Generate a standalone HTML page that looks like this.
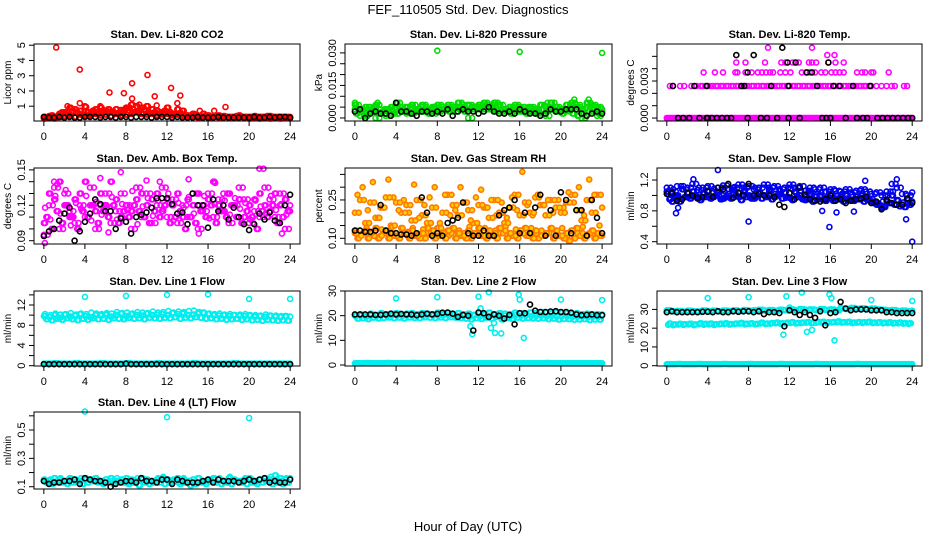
<!DOCTYPE html>
<html><head><meta charset="utf-8"><style>
body{margin:0;background:#fff}
svg{display:block;font-family:"Liberation Sans",sans-serif}
</style></head><body>
<svg id="chart" width="936" height="540" viewBox="0 0 936 540">
<rect width="936" height="540" fill="#fff"/>
<text x="468" y="14" text-anchor="middle" font-size="13">FEF_110505  Std. Dev. Diagnostics</text>
<text x="468" y="531" text-anchor="middle" font-size="13">Hour of Day (UTC)</text>
</svg>
<script>
const H1=[0,0.5,1,1.5,2,2.5,3,3.5,4,4.5,5,5.5,6,6.5,7,7.5,8,8.5,9,9.5,10,10.5,11,11.5,12,12.5,13,13.5,14,14.5,15,15.5,16,16.5,17,17.5,18,18.5,19,19.5,20,20.5,21,21.5,22,22.5,23,23.5,24];
const H2=[0.25,0.75,1.25,1.75,2.25,2.75,3.25,3.75,4.25,4.75,5.25,5.75,6.25,6.75,7.25,7.75,8.25,8.75,9.25,9.75,10.25,10.75,11.25,11.75,12.25,12.75,13.25,13.75,14.25,14.75,15.25,15.75,16.25,16.75,17.25,17.75,18.25,18.75,19.25,19.75,20.25,20.75,21.25,21.75,22.25,22.75,23.25,23.75];
const H3=[0.125,0.625,1.125,1.625,2.125,2.625,3.125,3.625,4.125,4.625,5.125,5.625,6.125,6.625,7.125,7.625,8.125,8.625,9.125,9.625,10.125,10.625,11.125,11.625,12.125,12.625,13.125,13.625,14.125,14.625,15.125,15.625,16.125,16.625,17.125,17.625,18.125,18.625,19.125,19.625,20.125,20.625,21.125,21.625,22.125,22.625,23.125,23.625];
const H4=[0.375,0.875,1.375,1.875,2.375,2.875,3.375,3.875,4.375,4.875,5.375,5.875,6.375,6.875,7.375,7.875,8.375,8.875,9.375,9.875,10.375,10.875,11.375,11.875,12.375,12.875,13.375,13.875,14.375,14.875,15.375,15.875,16.375,16.875,17.375,17.875,18.375,18.875,19.375,19.875,20.375,20.875,21.375,21.875,22.375,22.875,23.375,23.875];
const xTicks=[0,4,8,12,16,20,24];
const panelTitles=["Stan. Dev. Li-820 CO2","Stan. Dev. Li-820 Pressure","Stan. Dev. Li-820 Temp.","Stan. Dev. Amb. Box Temp.","Stan. Dev. Gas Stream RH","Stan. Dev. Sample Flow","Stan. Dev. Line 1 Flow","Stan. Dev. Line 2 Flow","Stan. Dev. Line 3 Flow","Stan. Dev. Line 4 (LT) Flow"];
const yTitles=["Licor ppm","kPa","degrees C","degrees C","percent","ml/min","ml/min","ml/min","ml/min","ml/min"];
const yDomains=[[0.03,5.08],[-0.0014,0.0341],[-0.00024,0.006],[0.0872,0.1516],[0.0777,0.375],[0.37,1.356],[-0.06,14.77],[-0.4,30.0],[-0.16,39.8],[0.084,0.627]];
const yTickVals=[[1,2,3,4,5],[0,0.005,0.01,0.015,0.02,0.025,0.03],[0,0.001,0.002,0.003,0.004,0.005],[0.09,0.1,0.11,0.12,0.13,0.14,0.15],[0.1,0.15,0.2,0.25,0.3,0.35],[0.4,0.6,0.8,1.0,1.2],[0,2,4,6,8,10,12,14],[0,10,20,30],[0,10,20,30],[0.1,0.2,0.3,0.4,0.5,0.6]];
const yTickLabels=[["1","2","3","4","5"],["0.000","","","0.015","","","0.030"],["0.000","","","0.003","",""],["0.09","","","0.12","","","0.15"],["0.10","","","0.25","",""],["0.4","","0.8","","1.2"],["0","","4","","8","","12",""],["0","10","20","30"],["0","10","20","30"],["0.1","","0.3","","0.5",""]];

// P1 CO2
const co2A=[0.3,0.35,0.3,0.5,0.6,0.9,0.8,0.7,0.95,0.5,0.8,0.9,0.7,0.6,0.8,0.75,0.9,1.1,1.0,0.9,1.0,0.8,0.7,0.6,0.9,0.5,0.8,0.7,0.4,0.5,0.35,0.5,0.4,0.3,0.4,0.35,0.3,0.3,0.4,0.3,0.3,0.35,0.3,0.3,0.35,0.3,0.3,0.3,0.3];
const co2B=[0.25,0.4,0.3,0.6,0.45,0.7,0.55,0.4,0.6,0.7,0.5,0.65,0.8,0.6,0.5,0.7,0.9,0.6,0.7,0.8,0.55,0.6,0.5,0.7,0.6,0.45,0.55,0.4,0.35,0.45,0.3,0.4,0.3,0.35,0.3,0.3,0.3,0.35,0.3,0.3,0.3,0.3,0.3,0.35,0.3,0.3,0.3,0.3];
const co2C=[0.2,0.25,0.2,0.3,0.35,0.4,0.3,0.45,0.35,0.4,0.5,0.4,0.45,0.35,0.5,0.4,0.45,0.5,0.6,0.5,0.45,0.5,0.4,0.45,0.5,0.4,0.45,0.35,0.3,0.35,0.25,0.3,0.25,0.3,0.25,0.3,0.25,0.25,0.3,0.25,0.2,0.25,0.2,0.25,0.2,0.25,0.2,0.25,0.2];
const co2Out=[[1.2,4.85],[3.5,3.4],[3.5,1.2],[6.4,1.9],[7.8,1.85],[8.6,2.5],[8.6,1.5],[10.1,3.05],[10.8,1.65],[12.4,2.2],[13.3,1.7],[13,1.2],[15.2,0.7],[16.6,0.7],[17.7,0.95],[2.3,1.0],[4,1.0],[5.5,1.0],[9.3,1.1],[11,1.05]];
const co2Black=[0.3,0.25,0.25,0.3,0.25,0.3,0.25,0.25,0.3,0.3,0.3,0.25,0.3,0.3,0.25,0.3,0.3,0.25,0.3,0.3,0.3,0.25,0.3,0.3,0.3,0.25,0.3,0.25,0.25,0.25,0.3,0.25,0.25,0.25,0.3,0.25,0.25,0.25,0.25,0.25,0.25,0.3,0.25,0.25,0.3,0.25,0.3,0.3,0.25];
// P2 Pressure
const prA=[0.006,0.004,0.005,0.003,0.006,0.002,0.004,0.005,0.007,0.003,0.005,0.006,0.004,0.006,0.003,0.005,0.006,0.004,0.006,0.005,0.007,0.004,0.006,0.005,0.006,0.007,0.005,0.007,0.006,0.004,0.005,0.006,0.005,0.003,0.005,0.004,0.006,0.005,0.007,0.005,0.004,0.006,0.007,0.005,0.004,0.007,0.006,0.005,0.004];
const prB=[0.002,0.003,0.001,0.004,0.002,0.003,0.004,0.003,0.002,0.004,0.003,0.002,0.004,0.003,0.002,0.005,0.003,0.004,0.003,0.005,0.004,0.003,0.004,0.005,0.004,0.005,0.004,0.003,0.004,0.003,0.002,0.004,0.003,0.002,0.003,0.002,0.004,0.003,0.004,0.003,0.002,0.004,0.002,0.001,0.002,0.003,0.004,0.002];
const prC=[0.004,0.001,0.003,0.005,0.0,0.004,0.001,0.002,0.004,0.005,0.002,0.004,0.003,0.005,0.004,0.002,0.003,0.005,0.004,0.003,0.005,0.006,0.0,0.004,0.005,0.004,0.006,0.004,0.003,0.004,0.005,0.003,0.004,0.005,0.004,0.003,0.002,0.001,0.004,0.003,0.004,0.003,0.005,0.006,0.0,0.005,0.003,0.001,0.003];
const prOut=[[8,0.031],[16,0.0305],[24,0.030],[21.3,0.0085],[22.7,0.0085],[18.7,0.007],[2.2,0.007],[0,0.007]];
const prBlack=[0.003,0.004,0.0,0.002,0.003,0.002,0.002,0.001,0.007,0.003,0.003,0.002,0.001,0.003,0.003,0.002,0.003,0.002,0.004,0.001,0.003,0.004,0.003,0.003,0.002,0.003,0.005,0.003,0.002,0.002,0.003,0.002,0.004,0.003,0.002,0.002,0.001,0.002,0.004,0.003,0.003,0.004,0.004,0.004,0.002,0.001,0.002,0.003,0.002];
// P3 Temp (discrete levels)
const tLevels=[0,0.0026,0.0037,0.0045,0.0051,0.0057];
const tMagentaHours=[
 H1.concat(H2,H3,H4),
 [0.3,0.6,1.3,1.7,2.4,2.9,3.3,3.5,3.8,4,4.2,4.5,4.8,5,5.3,5.5,5.8,6,6.3,6.5,6.8,7,7.3,7.5,7.8,8,8.3,8.5,8.8,9,9.3,9.5,9.8,10,10.3,10.5,10.8,11,11.3,11.5,11.8,12,12.3,12.5,12.8,13,13.3,13.5,13.8,14,14.3,14.5,14.8,15,15.3,15.5,15.8,16,16.3,16.5,16.8,17,17.3,17.5,17.8,18,18.3,18.5,18.8,19,19.3,19.5,19.8,20,20.5,21,21.5,22,22.3,23.2,23.5],
 [3.6,4.7,5.5,6.7,6.9,7.7,8.3,8.9,9.3,9.7,10.1,10.4,11.1,11.6,12.1,13.2,13.6,14,14.5,15.1,15.5,16.1,16.5,16.9,17.3,18.6,19.1,19.4,20,20.2,21.7],
 [6.8,7.7,9.6,11.2,11.6,12.3,12.9,13.9,14.2,14.6,15.8,16.5,17.3],
 [15.7,16.4],
 [9.9,14.2]];
const tBlackHours=[
 [1.1,1.6,2.2,3.2,3.9,4,4.4,4.9,5.4,5.9,6.3,7.9,9.2,9.8,10.8,11.9,13,15.2,15.6,16,17.5,18.6,19.2,19.6,20.6,21.1,21.6,22.1,22.6,23.1,23.6,24],
 [0.6,2.7,3.9,7.3,7.6,10.2,11.9,14.7,16.3,16.9,18.2,19.9],
 [7.9,13.7,14.2],
 [11.8,12.6,15.8],
 [6.8,8.5],
 [11.3]];
// P4 Amb box
const abA=[0.105,0.13,0.125,0.14,0.12,0.11,0.125,0.13,0.14,0.12,0.115,0.13,0.12,0.14,0.125,0.11,0.12,0.115,0.125,0.13,0.12,0.125,0.13,0.115,0.125,0.12,0.13,0.11,0.125,0.12,0.13,0.12,0.125,0.14,0.12,0.115,0.13,0.12,0.125,0.11,0.12,0.125,0.13,0.12,0.115,0.13,0.12,0.125,0.12];
const abB=[0.11,0.1,0.115,0.105,0.12,0.11,0.1,0.115,0.11,0.12,0.105,0.115,0.11,0.12,0.105,0.115,0.11,0.12,0.115,0.11,0.105,0.115,0.11,0.12,0.105,0.11,0.115,0.1,0.11,0.105,0.115,0.11,0.12,0.105,0.115,0.11,0.12,0.11,0.105,0.115,0.11,0.1,0.115,0.11,0.12,0.105,0.11,0.115];
const abC=[0.095,0.12,0.135,0.1,0.13,0.115,0.105,0.12,0.11,0.135,0.1,0.12,0.13,0.105,0.115,0.13,0.12,0.1,0.135,0.11,0.13,0.105,0.12,0.135,0.11,0.125,0.105,0.12,0.11,0.13,0.1,0.115,0.13,0.11,0.125,0.13,0.105,0.12,0.135,0.125,0.105,0.115,0.11,0.135,0.125,0.11,0.13,0.1,0.115];
const abD=[0.118,0.108,0.128,0.113,0.133,0.103,0.122,0.117,0.128,0.107,0.123,0.112,0.118,0.127,0.108,0.121,0.116,0.132,0.104,0.119,0.126,0.111,0.124,0.117,0.13,0.107,0.122,0.118,0.127,0.113,0.12,0.128,0.109,0.121,0.116,0.124,0.112,0.126,0.117,0.122,0.108,0.124,0.119,0.113,0.128,0.116,0.121,0.112];
const abOut=[[0.1,0.088],[1,0.14],[1.3,0.138],[5.5,0.143],[7.5,0.148],[11.3,0.14],[14.1,0.142],[16.7,0.139],[21,0.151],[21.4,0.151],[10,0.141],[15.1,0.096],[23.2,0.096],[6.3,0.097]];
const abBlack=[0.094,0.098,0.1,0.107,0.113,0.118,0.09,0.098,0.106,0.113,0.125,0.121,0.115,0.115,0.1,0.109,0.106,0.096,0.11,0.112,0.114,0.118,0.126,0.126,0.126,0.121,0.113,0.114,0.104,0.13,0.12,0.12,0.101,0.125,0.115,0.12,0.108,0.118,0.11,0.104,0.099,0.104,0.113,0.108,0.114,0.107,0.105,0.12,0.129];
// P5 RH
const rhA=[0.12,0.11,0.13,0.12,0.14,0.11,0.13,0.12,0.11,0.14,0.12,0.13,0.11,0.12,0.14,0.13,0.11,0.12,0.13,0.14,0.12,0.11,0.13,0.12,0.14,0.11,0.13,0.12,0.14,0.13,0.12,0.11,0.13,0.14,0.12,0.13,0.11,0.12,0.14,0.13,0.11,0.12,0.13,0.14,0.12,0.11,0.13,0.12,0.11];
const rhB=[0.1,0.12,0.1,0.11,0.1,0.12,0.1,0.11,0.1,0.12,0.1,0.11,0.1,0.1,0.12,0.1,0.11,0.1,0.12,0.1,0.11,0.1,0.1,0.12,0.11,0.1,0.11,0.1,0.12,0.1,0.11,0.1,0.12,0.11,0.1,0.1,0.11,0.12,0.1,0.11,0.1,0.09,0.1,0.11,0.1,0.12,0.1,0.11];
const rhC=[0.2,0.25,0.16,0.24,0.18,0.22,0.26,0.15,0.24,0.2,0.23,0.17,0.25,0.19,0.16,0.22,0.14,0.2,0.27,0.23,0.19,0.24,0.21,0.16,0.23,0.22,0.18,0.25,0.2,0.16,0.22,0.27,0.19,0.24,0.2,0.26,0.23,0.19,0.25,0.22,0.2,0.24,0.27,0.21,0.17,0.25,0.2,0.27,0.22];
const rhD=[0.27,0.3,0.21,0.32,0.18,0.22,0.33,0.26,0.21,0.25,0.2,0.31,0.18,0.23,0.26,0.3,0.16,0.27,0.19,0.21,0.3,0.24,0.17,0.26,0.29,0.22,0.25,0.19,0.24,0.18,0.26,0.21,0.36,0.23,0.19,0.27,0.23,0.25,0.2,0.25,0.22,0.28,0.24,0.3,0.19,0.33,0.27,0.15];
const rhE=[0.13,0.115,0.14,0.125,0.105,0.135,0.12,0.145,0.11,0.13,0.125,0.14,0.115,0.135,0.12,0.105,0.14,0.125,0.11,0.135,0.13,0.12,0.145,0.115,0.125,0.14,0.11,0.13,0.12,0.145,0.115,0.135,0.125,0.11,0.14,0.12,0.13,0.115,0.135,0.125,0.14,0.11,0.13,0.12,0.145,0.115,0.13,0.12];
const rhBlack=[0.13,0.13,0.125,0.125,0.13,0.23,0.13,0.12,0.12,0.115,0.115,0.11,0.12,0.26,0.2,0.11,0.12,0.11,0.16,0.17,0.18,0.24,0.12,0.11,0.11,0.13,0.11,0.11,0.19,0.21,0.22,0.25,0.12,0.2,0.12,0.22,0.27,0.11,0.21,0.11,0.28,0.25,0.12,0.21,0.21,0.11,0.25,0.18,0.12];
// P6 Sample flow
const sfA=[1.1,1.05,1.12,1.08,1.1,1.15,1.07,1.1,1.12,1.05,1.1,1.13,1.08,1.1,1.14,1.1,1.12,1.08,1.1,1.14,1.1,1.12,1.08,1.1,1.14,1.1,1.12,1.06,1.1,1.08,1.1,1.05,1.08,1.06,1.05,1.08,1.04,1.06,1.08,1.05,1.02,1.04,1.0,1.05,1.15,1.1,1.02,1.0,1.04];
const sfB=[0.95,1.0,0.92,0.98,0.96,1.0,0.94,0.98,0.96,1.0,0.95,0.98,0.96,1.0,0.94,0.98,0.96,1.0,0.96,0.98,0.95,1.0,0.96,0.98,0.94,0.98,0.95,0.96,0.92,0.95,0.94,0.96,0.93,0.95,0.92,0.94,0.93,0.95,0.92,0.94,0.9,0.88,0.85,0.9,0.88,0.86,0.85,0.88];
const sfC=[1.05,0.92,1.0,1.08,0.98,1.05,0.96,1.02,1.06,0.98,1.04,0.96,1.02,1.07,0.98,1.05,1.0,0.96,1.04,1.0,1.06,0.98,1.02,1.04,0.97,1.05,1.0,0.94,1.02,0.98,1.0,0.93,1.0,0.96,0.98,1.0,0.94,0.98,1.0,0.95,0.92,0.88,0.84,0.92,1.0,0.94,0.88,0.9,0.92];
const sfD=[1.02,1.08,0.97,1.12,1.03,0.99,1.1,1.04,0.98,1.09,1.01,1.06,0.99,1.11,1.03,1.07,0.98,1.1,1.04,0.99,1.08,1.02,1.06,0.97,1.09,1.03,1.06,0.98,1.05,1.0,1.04,0.97,1.03,0.99,1.02,0.96,1.01,0.98,1.03,0.97,0.95,0.9,0.92,1.0,1.05,0.93,0.91,0.95];
const sfOut=[[0.9,0.77],[1.1,0.84],[2.6,1.21],[5,1.33],[8,0.66],[15.9,0.59],[16.6,0.78],[18.3,0.79],[15.2,0.8],[22.5,1.21],[23.4,0.69],[24,0.4],[19.4,1.19]];
const sfBlack=[1.02,1.03,0.93,0.95,1.03,1.0,0.97,0.98,1.05,0.98,1.1,1.08,1.15,0.97,1.03,1.0,1.15,1.0,1.02,1.0,1.0,0.98,0.88,0.85,1.03,0.95,1.1,1.01,0.95,0.93,0.92,0.95,1.0,0.93,0.95,0.9,0.93,0.95,0.96,0.98,0.9,0.92,0.82,0.94,0.9,0.88,0.88,0.96,0.9];
// P7 Line 1
const l1A=[9.8,9.6,10,9.5,10.1,9.7,9.9,10.2,9.8,9.6,10,9.9,10.1,9.7,10,10.3,9.8,10.2,10,9.9,10.3,10,10.1,10.2,10,10.4,10.2,10.3,10,10.1,10.3,10.5,10.2,10.0,9.9,10,9.8,10,9.9,9.8,10,9.7,9.8,9.6,9.9,9.7,9.6,9.8,9.7];
const l1B=[9.2,9.0,9.3,9.1,9.4,9.2,9.0,9.3,9.1,9.4,9.2,9.3,9.1,9.4,9.3,9.2,9.5,9.3,9.4,9.2,9.5,9.4,9.3,9.5,9.4,9.6,9.3,9.5,9.4,9.6,9.5,9.3,9.4,9.2,9.3,9.1,9.2,9.3,9.1,9.2,9.0,9.1,8.9,9.1,9.0,8.9,9.0,8.9];
const l1C=[10.2,10.0,10.3,10.1,10.2,10.4,10.1,10.3,10.2,10.5,10.3,10.2,10.4,10.3,10.6,10.4,10.5,10.3,10.6,10.5,10.4,10.7,10.5,10.6,10.8,10.5,10.7,10.6,10.8,10.9,10.6,10.4,10.3,10.2,10.3,10.1,10.2,10.0,10.1,10.2,9.9,10.0,9.9,10.1,9.8,9.9,9.8,9.7];
const l1Low=[0.4,0.4,0.5,0.4,0.4,0.4,0.5,0.4,0.4,0.4,0.4,0.5,0.4,0.4,0.4,0.4,0.5,0.4,0.4,0.4,0.4,0.4,0.5,0.4,0.4,0.4,0.4,0.4,0.4,0.5,0.4,0.4,0.4,0.4,0.4,0.4,0.4,0.5,0.4,0.4,0.4,0.4,0.4,0.4,0.4,0.4,0.4,0.4,0.4];
const l1Out=[[4,13.6],[8,13.8],[12,14],[16,14.1],[20,13.2],[24,13.2]];
const l1Black=[0.3,0.3,0.3,0.3,0.3,0.3,0.3,0.3,0.3,0.3,0.3,0.3,0.3,0.3,0.3,0.3,0.4,0.3,0.3,0.3,0.3,0.3,0.3,0.3,0.3,0.3,0.3,0.3,0.3,0.3,0.3,0.3,0.3,0.3,0.3,0.3,0.3,0.3,0.3,0.3,0.3,0.3,0.3,0.3,0.3,0.3,0.3,0.3,0.3];
// P8 Line 2
const l2A=[20,20.5,19.8,20.8,20.2,21,20.5,20.7,21,20.4,20.8,21,20.6,21,20.8,20.6,21.2,20.8,21,20.7,21,20.5,20.8,20.3,21,20.8,21.2,20.6,21,20.8,20.5,21.2,21,20.7,21.3,21,21.5,21.2,21,21.3,21.2,21,20.8,21,20.6,20.8,20.5,20.6,20.5];
const l2B=[18.8,19,18.6,19.2,18.9,19.1,19.3,19,19.2,18.9,19.3,19.1,19,19.4,19.2,19,19.3,19.1,19.4,19.2,19,18.8,18.5,19,18.7,19.2,18.8,19.5,18.5,19,18.7,19.2,18.8,19.1,18.9,18.8,19,18.6,18.8,18.5,18.7,18.6,18.4,18.5,18.6,18.3,18.5,18.4];
const l2C=[19.8,20.1,19.6,20.2,19.9,20.3,19.8,20.1,20.2,19.9,20.3,20.0,20.2,19.9,20.4,20.1,19.9,20.3,20.0,20.2,19.8,20.1,19.5,20.0,19.7,20.3,19.8,20.4,19.6,20.0,19.8,20.2,19.9,20.1,19.8,19.9,20.1,19.7,19.9,19.6,19.8,19.7,19.5,19.6,19.7,19.4,19.6,19.5];
const l2Low=[0.7,0.7,0.8,0.7,0.7,0.7,0.8,0.7,0.7,0.7,0.7,0.8,0.7,0.7,0.7,0.7,0.8,0.7,0.7,0.7,0.7,0.7,0.8,0.7,0.7,0.7,0.7,0.7,0.7,0.8,0.7,0.7,0.7,0.7,0.7,0.7,0.7,0.8,0.7,0.7,0.7,0.7,0.7,0.7,0.7,0.7,0.7,0.7,0.7];
const l2Out=[[4,27],[8,27.5],[12,27.7],[13,29.5],[15.9,28.5],[16,26.5],[20,26.5],[24,26.3],[11.2,15.7],[11.4,12.5],[13.2,15],[13.5,17],[13.6,13],[14.2,12.8],[16.4,11],[12.2,23]];
const l2Black=[20.5,20.5,20.5,20.5,20.3,20.3,20.5,20.8,20.5,20.7,20.5,20.5,20.2,20.5,20.8,20.5,20.7,21.2,21.3,20.8,19.5,20.3,20,14,21.3,21,19.5,20.5,20,18.8,20.3,16.5,21,21,24.5,22,21.5,21.5,21.7,21.8,21.5,21.5,21.2,20.5,20.2,20.3,20.5,20.2,20.2];
// P9 Line 3
const l3A=[29.5,29,29.2,28.8,29.3,29,28.9,29.4,29.1,29.3,29,29.4,29.2,29.5,29.1,29.6,29.3,29.5,29.8,29.4,29.7,29.3,29.8,29.5,30,29.6,30.2,29.8,30,29.6,30.2,29.8,30,29.5,30.5,30.2,30.8,30.3,30.6,30.2,30.5,30,29.8,29.5,29.6,29.2,29.4,29,29.3];
const l3B=[22.5,22,22.3,22.1,22.4,22,22.6,22.3,22.5,22.1,22.4,22.6,22.2,22.5,22.8,22.4,22.6,22.3,22.9,22.5,22.7,23,22.6,22.9,23.2,22.8,23,23.2,22.9,23.3,23.4,23.1,23.3,23.6,23.2,23.4,23,23.3,23.1,23.4,23,23.2,22.9,23.1,22.8,23,22.7,22.6];
const l3C=[21.8,21.6,21.9,21.7,22.0,21.6,22.1,21.8,22.0,21.7,22.1,22.2,21.9,22.2,22.4,22.0,22.3,22.0,22.5,22.2,22.4,22.6,22.3,22.5,22.8,22.5,22.7,22.9,22.6,22.9,23.0,22.8,23.0,23.1,22.9,23.0,22.7,22.9,22.8,23.0,22.7,22.8,22.6,22.7,22.5,22.6,22.4,22.3];
const l3Low=[0.8,0.8,0.9,0.8,0.8,0.8,0.9,0.8,0.8,0.8,0.8,0.9,0.8,0.8,0.8,0.8,0.9,0.8,0.8,0.8,0.8,0.8,0.9,0.8,0.8,0.8,0.8,0.8,0.8,0.9,0.8,0.8,0.8,0.8,0.8,0.8,0.8,0.9,0.8,0.8,0.8,0.8,0.8,0.8,0.8,0.8,0.8,0.8,0.8];
const l3Out=[[4,36],[8,36.5],[11.7,37],[13.2,39],[15.9,38],[16.1,36],[20,35],[24,34.5],[11.4,16.5],[13.7,18],[14.2,19],[16.4,13.5],[12,31],[17,31]];
const l3Black=[28.5,29,28.5,28.5,28.5,28.5,28.5,28.7,28.7,28.5,29,28.5,28.5,29,28.7,29,29,28.5,29,27.5,28.5,28.5,28,21,29.5,28.5,27,28.5,27,25.5,29,21.5,28,28.5,34,30.5,29.5,30,30,30,29.5,29.5,29.5,28.5,28.5,28,28,28,28];
// P10 Line 4
const l4A=[0.15,0.14,0.16,0.15,0.14,0.16,0.15,0.14,0.16,0.15,0.16,0.14,0.15,0.16,0.14,0.15,0.16,0.15,0.14,0.16,0.15,0.14,0.15,0.16,0.15,0.14,0.16,0.15,0.14,0.15,0.16,0.14,0.15,0.16,0.15,0.14,0.16,0.15,0.14,0.15,0.16,0.14,0.15,0.16,0.15,0.18,0.16,0.15,0.16];
const l4B=[0.13,0.12,0.14,0.13,0.12,0.13,0.14,0.12,0.13,0.14,0.13,0.12,0.13,0.12,0.14,0.13,0.12,0.13,0.11,0.13,0.12,0.14,0.13,0.12,0.13,0.14,0.12,0.13,0.11,0.12,0.13,0.12,0.14,0.13,0.12,0.13,0.12,0.14,0.13,0.12,0.13,0.12,0.13,0.14,0.12,0.13,0.12,0.13];
const l4C=[0.14,0.15,0.13,0.16,0.14,0.15,0.13,0.16,0.15,0.14,0.16,0.13,0.15,0.14,0.16,0.15,0.13,0.14,0.16,0.15,0.14,0.13,0.16,0.17,0.14,0.15,0.13,0.16,0.14,0.15,0.16,0.13,0.14,0.15,0.16,0.14,0.17,0.15,0.14,0.16,0.15,0.13,0.15,0.14,0.17,0.15,0.14,0.16];
const l4Out=[[4,0.63],[12,0.59],[20,0.585]];
const l4Black=[0.14,0.12,0.13,0.13,0.14,0.14,0.15,0.12,0.16,0.15,0.14,0.14,0.13,0.1,0.12,0.13,0.14,0.14,0.13,0.16,0.14,0.14,0.13,0.15,0.15,0.12,0.15,0.14,0.13,0.13,0.13,0.14,0.15,0.13,0.15,0.14,0.14,0.14,0.13,0.14,0.15,0.14,0.15,0.16,0.13,0.14,0.13,0.13,0.15];

const NS="http://www.w3.org/2000/svg";
const svg=document.getElementById('chart');
const colX=[34,345,657], colW=[266,267,265];
const rowY=[44,168,291,412], boxH=[77,76,75,77];
function mk(tag,attrs,parent){const e=document.createElementNS(NS,tag);for(const k in attrs)e.setAttribute(k,attrs[k]);(parent||svg).appendChild(e);return e;}
function zip(xs,ys){const o=[];const n=Math.min(xs.length,ys.length);for(let i=0;i<n;i++)o.push([xs[i],ys[i]]);return o;}
function lvl(hoursLists,levels){const o=[];hoursLists.forEach((hs,i)=>hs.forEach(h=>o.push([h,levels[i]])));return o;}
const series=[
 [["#ff0000",zip(H1,co2A).concat(zip(H2,co2B),zip(H1,co2C),zip(H3,co2C),zip(H4,co2B),zip(H3,co2A),co2Out)],["#000",zip(H1,co2Black)]],
 [["#00dd00",zip(H1,prA).concat(zip(H2,prB),zip(H1,prC),zip(H3,prA),zip(H4,prC),zip(H3,prB),zip(H4,prA),prOut)],["#000",zip(H1,prBlack)]],
 [["#ff00ff",lvl(tMagentaHours,tLevels)],["#000",lvl(tBlackHours,tLevels)]],
 [["#ff00ff",zip(H1,abA).concat(zip(H2,abB),zip(H1,abC),zip(H3,abD),zip(H4,abB),zip(H3,abA),zip(H4,abC),abOut)],["#000",zip(H1,abBlack)]],
 [["#ff7a00",zip(H1,rhA).concat(zip(H2,rhB),zip(H1,rhC),zip(H2,rhD),zip(H3,rhE),zip(H4,rhB),zip(H3,rhA),zip(H4,rhC)),"#ffd000"],["#000",zip(H1,rhBlack)]],
 [["#0000ee",zip(H1,sfA).concat(zip(H2,sfB),zip(H1,sfC),zip(H3,sfD),zip(H4,sfB),zip(H3,sfC),zip(H4,sfA),sfOut)],["#000",zip(H1,sfBlack)]],
 [["#00eeee",zip(H1,l1A).concat(zip(H2,l1B),zip(H3,l1C),zip(H4,l1B),zip(H3,l1A),zip(H1,l1Low),zip(H2,l1Low),zip(H3,l1Low),zip(H4,l1Low),l1Out)],["#000",zip(H1,l1Black)]],
 [["#00eeee",zip(H1,l2A).concat(zip(H2,l2B),zip(H3,l2C),zip(H4,l2B),zip(H3,l2A),zip(H1,l2Low),zip(H2,l2Low),zip(H3,l2Low),zip(H4,l2Low),l2Out)],["#000",zip(H1,l2Black)]],
 [["#00eeee",zip(H1,l3A).concat(zip(H2,l3B),zip(H3,l3C),zip(H4,l3B),zip(H3,l3A),zip(H4,l3A),zip(H1,l3Low),zip(H2,l3Low),zip(H3,l3Low),zip(H4,l3Low),l3Out)],["#000",zip(H1,l3Black)]],
 [["#00eeee",zip(H1,l4A).concat(zip(H2,l4B),zip(H3,l4C),zip(H4,l4B),zip(H3,l4A),l4Out)],["#000",zip(H1,l4Black)]]
];
for(let p=0;p<10;p++){
 const r=Math.floor(p/3),c=p%3;
 const L=colX[c],W=colW[c],T=rowY[r],H=boxH[r],B=T+H;
 const g=mk('g',{});
 
 
 const xs=v=>L+(v+0.96)/25.92*W;
 const [d0,d1]=yDomains[p];
 const ys=v=>B-(v-d0)/(d1-d0)*H;
 const t=mk('text',{x:L+W/2,y:T-6,'text-anchor':'middle','font-size':11,'font-weight':'bold'},g);
 t.textContent=panelTitles[p];
 
 
 const yt=mk('text',{x:0,y:0,'text-anchor':'middle','font-size':10,transform:`translate(${L-23},${T+H/2}) rotate(-90)`},g);
 yt.textContent=yTitles[p];
 
 
 const pg=mk('g',{},g);
 
 
 series[p].forEach(s=>{
  s[1].forEach(pt=>{
   const cy=ys(pt[1]);
   if(cy<T-3||cy>B+3)return;
   const ci=mk('circle',{cx:xs(pt[0]).toFixed(1),cy:cy.toFixed(1),r:2.5,fill:s[2]||'none',stroke:s[0],'stroke-width':1.6},pg);
   
   
  });
 });
 const box=mk('rect',{x:L,y:T,width:W,height:H,fill:'none',stroke:'#000','stroke-width':1},g);
 
 
 xTicks.forEach(v=>{
  const x=xs(v);
  mk('line',{x1:x,x2:x,y1:B,y2:B+5,stroke:'#000'},g);
  const tl=mk('text',{x:x,y:B+19,'text-anchor':'middle','font-size':11},g);
  tl.textContent=v;
  
  
 });
 const yv=yTickVals[p];
 mk('line',{x1:L,x2:L,y1:ys(yv[0]),y2:ys(yv[yv.length-1]),stroke:'#000'},g);
 yv.forEach((v,i)=>{
  const y=ys(v);
  mk('line',{x1:L-5,x2:L,y1:y,y2:y,stroke:'#000'},g);
  const lab=yTickLabels[p][i];
  if(lab){
   const tl=mk('text',{x:0,y:0,'text-anchor':'middle','font-size':11,transform:`translate(${L-9},${y}) rotate(-90)`},g);
   tl.textContent=lab;
   
   
  }
 });
}
</script>
</body></html>
